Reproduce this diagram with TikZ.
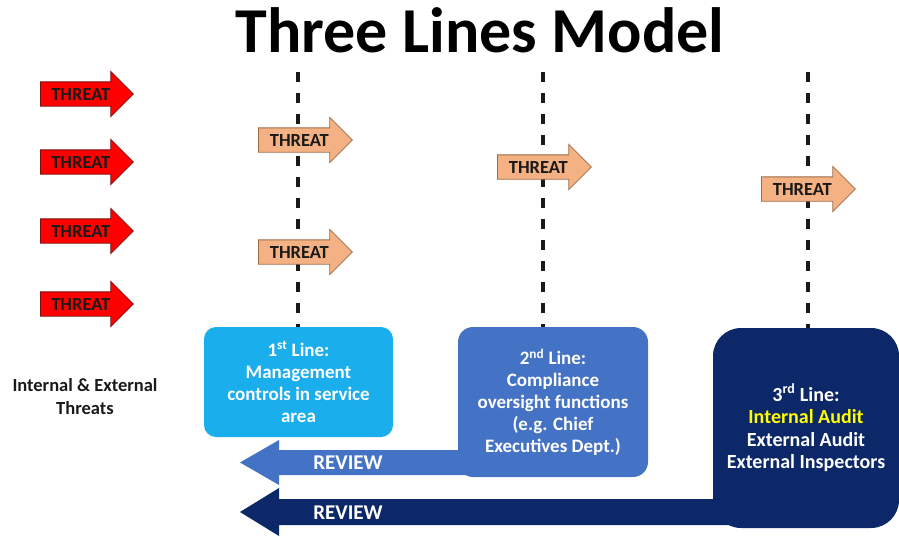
\documentclass[tikz,border=0pt]{standalone}
\usepackage{fontspec}
\setmainfont{Carlito}
\usetikzlibrary{shapes.arrows}
\definecolor{threatred}{HTML}{FF0000}
\definecolor{threatedge}{HTML}{7A1010}
\definecolor{peach}{HTML}{F4B183}
\definecolor{peachedge}{HTML}{9C6B45}
\definecolor{skyline}{HTML}{1BAEEC}
\definecolor{midblue}{HTML}{4472C4}
\definecolor{navy}{HTML}{0C2868}
\definecolor{ink}{HTML}{1A1A1A}
\definecolor{audityellow}{HTML}{FFFF00}
\tikzset{
  threat/.style={single arrow, draw=threatedge, fill=threatred, line width=0.8pt, text=ink,
    font=\fontsize{18.5}{20}\selectfont\bfseries, text height=12pt, text depth=0pt,
    inner xsep=2pt, inner ysep=5.75pt, minimum height=93pt,
    single arrow head extend=10.5pt, anchor=tail},
  softthreat/.style={threat, draw=peachedge, fill=peach, minimum height=94pt},
  linebox/.style={text=white, align=center, inner sep=0pt,
    font=\fontsize{19}{22}\selectfont\bfseries},
  fence/.style={ink, line width=3.5pt, dash pattern=on 10pt off 11pt},
  review/.style={text=white, font=\fontsize{21}{24}\selectfont\bfseries},
  lbl/.style={text=ink, align=center, font=\fontsize{18.5}{23}\selectfont\bfseries},
}
\begin{document}
\begin{tikzpicture}[x=1pt,y=-1pt]
  \useasboundingbox (0,0) rectangle (899,536);
  \node[anchor=base, text=black, font=\fontsize{64}{66}\selectfont\bfseries] (title) at (480,52) {Three Lines Model};

  % review arrows run back under the boxes
  \fill[midblue] (240,462.5) -- (279,440) -- (279,450) -- (600,450) -- (600,475)
    -- (279,475) -- (279,485) -- cycle;
  \fill[navy] (240,512) -- (279,488) -- (279,499) -- (760,499) -- (760,525)
    -- (279,525) -- (279,536) -- cycle;
  \node[review] (rev1) at (348,463) {REVIEW};
  \node[review] (rev2) at (348,513) {REVIEW};

  % the three lines
  \node[linebox, fill=skyline, rounded corners=12pt, minimum width=189pt, minimum height=110pt]
    (first) at (298.5,382) {1\textsuperscript{st} Line:\\Management\\controls in service\\area};
  \node[linebox, fill=midblue, rounded corners=15pt, minimum width=190pt, minimum height=150pt]
    (second) at (553,402) {2\textsuperscript{nd} Line:\\Compliance\\oversight functions\\(e.g. Chief\\Executives Dept.)};
  \node[linebox, fill=navy, rounded corners=28pt, minimum width=186pt, minimum height=200pt,
    font=\fontsize{20}{22.5}\selectfont\bfseries]
    (third) at (806,428) {3\textsuperscript{rd} Line:\\\textcolor{audityellow}{Internal Audit}\\External Audit\\External Inspectors};

  \node[lbl] (source) at (85,397) {Internal \& External\\Threats};

  % dashed lines down to each box
  \coordinate (top1) at (298,72);
  \coordinate (top2) at (543,72);
  \coordinate (top3) at (808,72);
  \draw[fence] (top1) -- (top1 |- first.north);
  \draw[fence] (top2) -- (top2 |- second.north);
  \draw[fence] (top3) -- (top3 |- third.north);

  % incoming threats and those that get through
  \foreach \y [count=\i] in {94,162,231,304}
    \node[threat] (red\i) at (40,\y) {THREAT};
  \node[softthreat] (pass1) at (258,140) {THREAT};
  \node[softthreat] (pass2) at (258,252) {THREAT};
  \node[softthreat] (pass3) at (497,167) {THREAT};
  \node[softthreat] (pass4) at (761,189) {THREAT};
\end{tikzpicture}
\end{document}
